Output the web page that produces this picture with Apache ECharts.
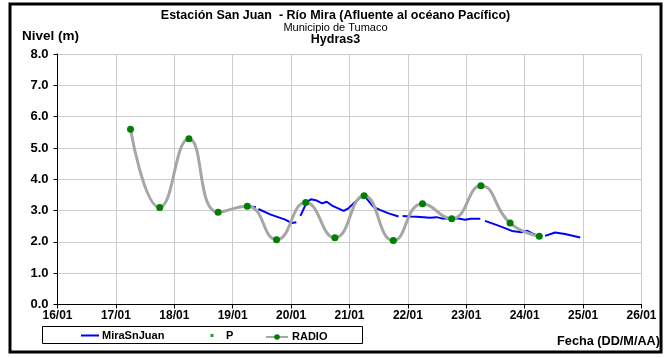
<!DOCTYPE html>
<html>
<head>
<meta charset="utf-8">
<script src="https://cdn.jsdelivr.net/npm/echarts@6/dist/echarts.min.js"></script>
<style>
html,body{margin:0;padding:0;background:#fff;}
#chart{width:671px;height:358px;}
</style>
</head>
<body>
<div id="chart"></div>
<script>
// X tick labels (days from 16/01 to 26/01)
var xTickLabels = ["16/01","17/01","18/01","19/01","20/01","21/01","22/01","23/01","24/01","25/01","26/01"];
var yTickLabels = ["0.0","1.0","2.0","3.0","4.0","5.0","6.0","7.0","8.0"];

// MiraSnJuan (hydrometric sensor) – time in decimal day of January, null = gap
var miraDays = [19.27,19.40,null,19.44,19.64,19.90,20.01,20.09,null,20.16,20.27,20.34,20.44,20.53,20.61,20.70,20.90,20.98,21.10,21.21,21.27,21.41,21.52,21.67,21.84,null,21.91,22.04,22.15,22.38,22.49,22.58,22.75,22.86,22.98,23.07,23.24,null,23.32,23.55,23.78,23.95,24.04,24.12,24.24,null,24.35,24.52,24.69,24.95];
var miraLevels = [3.14,3.11,null,3.05,2.88,2.71,2.60,2.63,null,2.83,3.28,3.36,3.32,3.23,3.28,3.16,2.99,3.07,3.28,3.46,3.44,3.12,3.02,2.91,2.81,null,2.83,2.81,2.80,2.77,2.79,2.75,2.75,2.75,2.71,2.74,2.74,null,2.67,2.52,2.35,2.31,2.36,2.28,2.18,null,2.19,2.30,2.25,2.14];

// P series (no readings shown)
var pDays = [];
var pLevels = [];

// RADIO readings (06:00 and 18:00)
var radioDays = [17.25,17.75,18.25,18.75,19.25,19.75,20.25,20.75,21.25,21.75,22.25,22.75,23.25,23.75,24.25];
var radioLevels = [5.60,3.10,5.29,2.95,3.14,2.07,3.26,2.13,3.47,2.04,3.22,2.74,3.79,2.60,2.18];

function pairs(xs, ys){
  var out = [];
  for (var i = 0; i < xs.length; i++) {
    out.push(xs[i] === null ? '-' : [xs[i], ys[i]]);
  }
  return out;
}

var FONT = '"Liberation Sans", Arial, sans-serif';
var chart = echarts.init(document.getElementById('chart'), null, {renderer:'canvas'});
chart.setOption({
  animation: false,
  backgroundColor: '#fff',
  textStyle: {fontFamily: FONT},
  grid: {left: 57.5, right: 29.5, top: 54, bottom: 53.5, containLabel: false},
  xAxis: {
    type: 'value', min: 16, max: 26, interval: 1,
    axisLine: {show: true, onZero: false, lineStyle: {color: '#000', width: 1}},
    axisTick: {show: true, length: 4, lineStyle: {color: '#000'}},
    axisLabel: {color: '#000', fontWeight: 'bold', fontSize: 12, fontFamily: FONT, margin: 5,
      formatter: function(v){ return xTickLabels[Math.round(v - 16)]; }},
    splitLine: {show: true, lineStyle: {color: '#cccccc', width: 1}}
  },
  yAxis: {
    type: 'value', min: 0, max: 8, interval: 1,
    axisLine: {show: true, lineStyle: {color: '#000', width: 1}},
    axisTick: {show: true, length: 4, lineStyle: {color: '#000'}},
    axisLabel: {color: '#000', fontWeight: 'bold', fontSize: 13, fontFamily: FONT, margin: 9,
      formatter: function(v){ return yTickLabels[Math.round(v)]; }},
    splitLine: {show: true, lineStyle: {color: '#cccccc', width: 1}}
  },
  legend: [
    {data: [{name: 'MiraSnJuan', icon: 'path://M0,0 M18,10 M0,4 L18,4 L18,6 L0,6 Z'}], left: 81, top: 330, itemWidth: 18, itemHeight: 10, padding: 0,
      textStyle: {fontWeight: 'bold', fontSize: 11, color: '#000', fontFamily: FONT, padding: [0,0,0,-2]}},
    {data: [{name: 'P', icon: 'path://M0,0 M18,0 M18,10 M0,10 M7.5,3.5 L10.5,3.5 L10.5,6.5 L7.5,6.5 Z'}], left: 203, top: 330, itemWidth: 18, itemHeight: 10, padding: 0,
      textStyle: {fontWeight: 'bold', fontSize: 11, color: '#000', fontFamily: FONT}},
    {data: ['RADIO'], left: 265, top: 331.5, itemWidth: 22, itemHeight: 7, padding: 0,
      textStyle: {fontWeight: 'bold', fontSize: 11, color: '#000', fontFamily: FONT, padding: [0,0,0,-1]}}
  ],
  graphic: [
    {type: 'rect', shape: {x: 10, y: 4, width: 651, height: 348}, style: {fill: 'none', stroke: '#000', lineWidth: 3}, z: 100},
    {type: 'rect', shape: {x: 42.5, y: 326.5, width: 320, height: 17}, style: {fill: 'none', stroke: '#000', lineWidth: 1}, z: 100},
    {type: 'text', left: 'center', top: 9, style: {text: 'Estación San Juan  - Río Mira (Afluente al océano Pacífico)', font: 'bold 12.5px ' + FONT, fill: '#000'}},
    {type: 'text', left: 'center', top: 22, style: {text: 'Municipio de Tumaco', font: '11px ' + FONT, fill: '#000'}},
    {type: 'text', left: 'center', top: 33, style: {text: 'Hydras3', font: 'bold 12.5px ' + FONT, fill: '#000'}},
    {type: 'text', left: 22, top: 29, style: {text: 'Nivel (m)', font: 'bold 13.5px ' + FONT, fill: '#000'}},
    {type: 'text', right: 11, top: 335, style: {text: 'Fecha (DD/M/AA)', font: 'bold 12.7px ' + FONT, fill: '#000'}}
  ],
  series: [
    {name: 'MiraSnJuan', type: 'line', data: pairs(miraDays, miraLevels), showSymbol: false, symbol: 'none', smooth: false,
      connectNulls: false, lineStyle: {color: '#0000ff', width: 2}, itemStyle: {color: '#0000ff'}, z: 2},
    {name: 'P', type: 'scatter', data: pairs(pDays, pLevels), symbol: 'rect', symbolSize: 3,
      itemStyle: {color: '#008000'}, z: 3},
    {name: 'RADIO', type: 'line', data: pairs(radioDays, radioLevels), smooth: 0.5,
      symbol: 'circle', symbolSize: 7, showSymbol: true,
      lineStyle: {color: '#a6a6a6', width: 3}, itemStyle: {color: '#008000', borderWidth: 0}, z: 4}
  ]
});
</script>
</body>
</html>
